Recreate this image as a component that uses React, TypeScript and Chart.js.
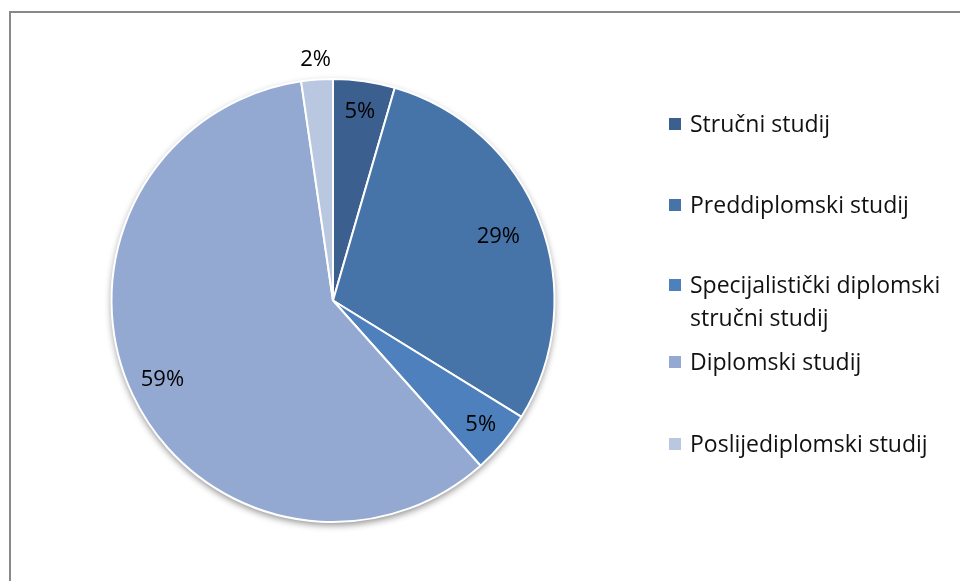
import React, { useEffect, useRef } from "react";
import { Chart, registerables } from "chart.js";

Chart.register(...registerables);

const categories = [
  "Stručni studij",
  "Preddiplomski studij",
  "Specijalistički diplomski stručni studij",
  "Diplomski studij",
  "Poslijediplomski studij",
];
const legendLines = [
  ["Stručni studij"],
  ["Preddiplomski studij"],
  ["Specijalistički diplomski", "stručni studij"],
  ["Diplomski studij"],
  ["Poslijediplomski studij"],
];
const values = [4.5, 29.3, 4.6, 59.3, 2.3];
const colors = ["#3B5F8F", "#4674A8", "#4E80BE", "#94A9D1", "#BAC7E1"];
const labelRadius = [0.86, 0.8, 0.87, 0.85, 1.09];
const legendTops = [107, 188, 268, 345, 427];

const FONT = "'Open Sans', Lato, sans-serif";

const shadowPlugin = {
  id: "pieShadow",
  beforeDatasetsDraw(chart: any) {
    const meta = chart.getDatasetMeta(0);
    const arc = meta.data[0];
    if (!arc) return;
    const { x, y, outerRadius } = arc.getProps(["x", "y", "outerRadius"], true);
    const ctx = chart.ctx;
    ctx.save();
    ctx.shadowColor = "rgba(0,0,0,0.45)";
    ctx.shadowBlur = 7;
    ctx.shadowOffsetY = 3;
    ctx.fillStyle = "#ffffff";
    ctx.beginPath();
    ctx.arc(x, y, outerRadius, 0, Math.PI * 2);
    ctx.fill();
    ctx.restore();
  },
};

const labelPlugin = {
  id: "pieLabels",
  afterDatasetsDraw(chart: any) {
    const meta = chart.getDatasetMeta(0);
    const data = chart.data.datasets[0].data as number[];
    const total = data.reduce((a, b) => a + b, 0);
    const ctx = chart.ctx;
    ctx.save();
    ctx.font = `22px ${FONT}`;
    ctx.fillStyle = "#000";
    ctx.textAlign = "center";
    ctx.textBaseline = "middle";
    meta.data.forEach((el: any, i: number) => {
      const p = el.getProps(["x", "y", "startAngle", "endAngle", "outerRadius"], true);
      const mid = (p.startAngle + p.endAngle) / 2;
      const r = p.outerRadius * labelRadius[i];
      const tx = p.x + Math.cos(mid) * r;
      const ty = p.y + Math.sin(mid) * r;
      ctx.fillText(`${Math.round((data[i] / total) * 100)}%`, tx, ty);
    });
    ctx.restore();
  },
};

export default function App() {
  const ref = useRef<HTMLCanvasElement>(null);
  useEffect(() => {
    if (!ref.current) return;
    const chart = new Chart(ref.current, {
      type: "pie",
      data: {
        labels: categories,
        datasets: [
          {
            data: values,
            backgroundColor: colors,
            borderColor: "#ffffff",
            borderWidth: 2,
          },
        ],
      },
      options: {
        animation: false,
        responsive: false,
        layout: { padding: { left: 110, right: 404, top: 78, bottom: 58 } },
        plugins: {
          legend: { display: false },
          tooltip: { enabled: false },
        },
      },
      plugins: [shadowPlugin, labelPlugin],
    });
    return () => chart.destroy();
  }, []);

  return (
    <div style={{ position: "fixed", left: 0, top: 0, width: 960, height: 581, background: "#fff", overflow: "hidden" }}>
      <div
        style={{
          position: "absolute",
          left: 9,
          top: 11,
          width: 1000,
          height: 700,
          borderTop: "2px solid #898989",
          borderLeft: "2px solid #898989",
        }}
      />
      <canvas ref={ref} width={960} height={581} style={{ position: "absolute", left: 0, top: 0 }} />
      {legendLines.map((lines, i) => (
        <div
          key={i}
          style={{
            position: "absolute",
            left: 669,
            top: legendTops[i],
            fontFamily: FONT,
            fontSize: 23,
            lineHeight: "33px",
            color: "#111",
          }}
        >
          <span
            style={{
              position: "absolute",
              left: 0,
              top: 11,
              width: 12,
              height: 12,
              background: colors[i],
            }}
          />
          <div style={{ marginLeft: 21, whiteSpace: "nowrap" }}>
            {lines.map((l, j) => (
              <div key={j}>{l}</div>
            ))}
          </div>
        </div>
      ))}
    </div>
  );
}
